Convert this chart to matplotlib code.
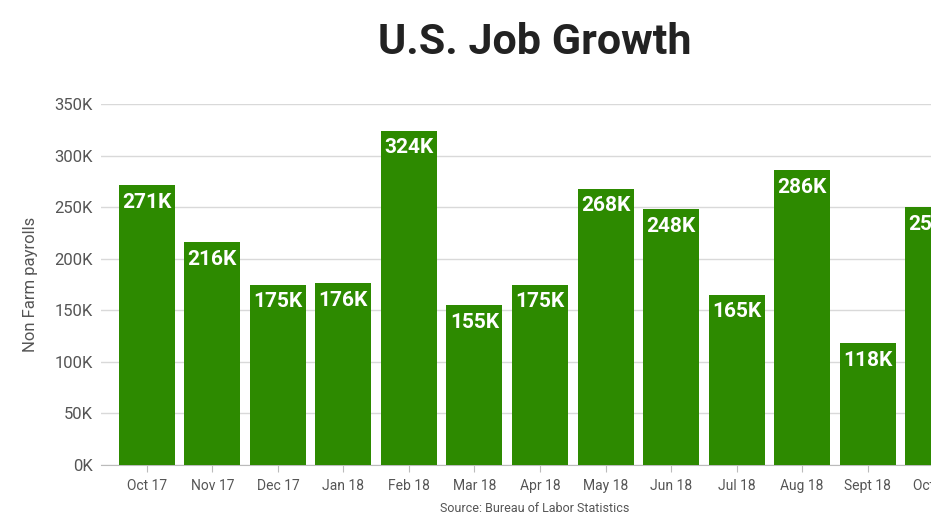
import matplotlib.pyplot as plt

# data (thousands of jobs)
months = ["Oct 17", "Nov 17", "Dec 17", "Jan 18", "Feb 18", "Mar 18", "Apr 18",
          "May 18", "Jun 18", "Jul 18", "Aug 18", "Sept 18", "Oct 18"]
payrolls = [271, 216, 175, 176, 324, 155, 175, 268, 248, 165, 286, 118, 250]
y_ticks = [0, 50, 100, 150, 200, 250, 300, 350]

bar_color = "#2d8a00"
text_gray = "#555555"

plt.rcParams["font.family"] = ["Roboto", "DejaVu Sans"]

fig = plt.figure(figsize=(9.31, 5.23), dpi=100)
# axes runs past the right edge on purpose, the last bar is cut off
ax = fig.add_axes([101 / 931, 58 / 523, 878 / 931, 361 / 523])

x = list(range(len(months)))
bars = ax.bar(x, payrolls, width=0.855, color=bar_color, zorder=3)

for xi, v in zip(x, payrolls):
    ax.annotate(f"{v}K", (xi, v), xytext=(0, -5.5), textcoords="offset points",
                ha="center", va="top", color="white", fontsize=15,
                fontweight="bold", zorder=4)

ax.set_xlim(-0.70, 12.70)
ax.set_ylim(0, 350)
ax.set_yticks(y_ticks)
ax.set_yticklabels([f"{t}K" for t in y_ticks])
ax.set_xticks(x)
ax.set_xticklabels(months)

ax.grid(axis="y", color="#d9d9d9", linewidth=1, zorder=0)
for s in ["top", "right", "left"]:
    ax.spines[s].set_visible(False)
ax.spines["bottom"].set_color("#bbbbbb")

ax.tick_params(axis="y", length=0, pad=6, labelsize=12, labelcolor=text_gray)
ax.tick_params(axis="x", length=5, color="#bbbbbb", pad=5, labelsize=10,
               labelcolor=text_gray)

ax.set_ylabel("Non Farm payrolls", fontsize=12, color=text_gray, labelpad=12)

fig.text(535 / 931, 1 - 42 / 523, "U.S. Job Growth", ha="center", va="center",
         fontsize=31, fontweight="bold", color="#222222")
fig.text(535 / 931, 1 - 508 / 523, "Source: Bureau of Labor Statistics",
         ha="center", va="center", fontsize=9, color=text_gray)

fig.savefig("out.png", dpi=100)
